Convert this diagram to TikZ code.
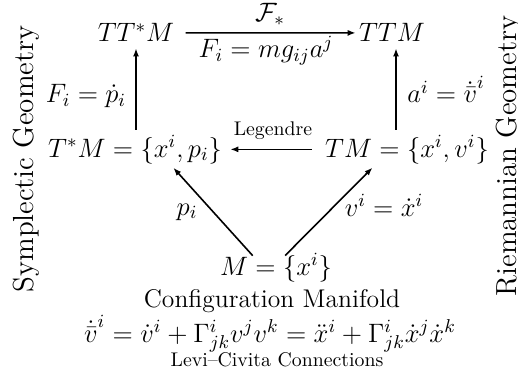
\RequirePackage{fix-cm}
\documentclass[tikz,border=0pt]{standalone}
\usetikzlibrary{arrows.meta}
\begin{document}
\begin{tikzpicture}[x=0.5pt,y=-0.5pt,
  obj/.style={inner sep=0pt, anchor=base, font=\fontsize{13.3}{16}\selectfont},
  txt/.style={inner sep=0pt, anchor=base, font=\fontsize{12.8}{15}\selectfont},
  small/.style={inner sep=0pt, anchor=base, font=\fontsize{9.9}{12}\selectfont},
  side/.style={inner sep=0pt, rotate=90, anchor=base, font=\fontsize{14.5}{17}\selectfont},
  arr/.style={-{Latex[length=4pt,width=3pt]}, line width=0.8pt}]
\useasboundingbox (0,0) rectangle (518,385);
% objects
\node[obj] (tts) at (136,42) {$TT^*M$};
\node[obj] (ttm) at (392,42) {$TTM$};
\node[obj] (tsm) at (135,157) {$T^*M=\{x^i,p_i\}$};
\node[obj] (tm) at (407,157) {$TM=\{x^i,v^i\}$};
\node[obj] (m) at (276,275) {$M=\{x^i\}$};
\node[txt] (conf) at (272,307) {Configuration Manifold};
\node[obj] (lc) at (270,342) {$\dot{\bar v}^i=\dot v^i+\Gamma^i_{jk}v^jv^k=\ddot x^i+\Gamma^i_{jk}\dot x^j\dot x^k$};
\node[small] (lcl) at (277,366) {Levi--Civita Connections};
\node[side] (sg) at (33,159) {Symplectic Geometry};
\node[side] (rg) at (516.5,156) {Riemannian Geometry};
% labels
\node[obj] (lfs) at (270,22) {$\mathcal{F}_*$};
\node[obj] (lfm) at (266,58) {$F_i=mg_{ij}a^j$};
\node[obj] (lfp) at (86,103) {$F_i=\dot p_i$};
\node[obj] (lav) at (446,103) {$a^i=\dot{\bar v}^i$};
\node[small] (lleg) at (273,135) {Legendre};
\node[obj] (lp) at (187,215) {$p_i$};
\node[obj] (lvx) at (384,216) {$v^i=\dot x^i$};
% arrows
\draw[arr, shorten <=5.5pt, shorten >=1.5pt] (tts.east) -- (ttm.west);
\draw[arr, shorten <=6.5pt, shorten >=4pt] (tm.west) -- (tsm.east);
\draw[arr, shorten <=2.5pt, shorten >=3pt] (tsm.north -| tts.south) -- (tts.south);
\draw[arr, shorten <=2.5pt, shorten >=3pt, transform canvas={xshift=2pt}] (tm.north -| ttm.south) -- (ttm.south);
\draw[arr, shorten <=-2pt, shorten >=2.5pt] ([xshift=-13pt]m.north) -- ([xshift=17.5pt]tsm.south);
\draw[arr, shorten <=-2pt, shorten >=2.5pt] ([xshift=6pt]m.north) -- ([xshift=-15.5pt]tm.south);
\end{tikzpicture}
\end{document}
